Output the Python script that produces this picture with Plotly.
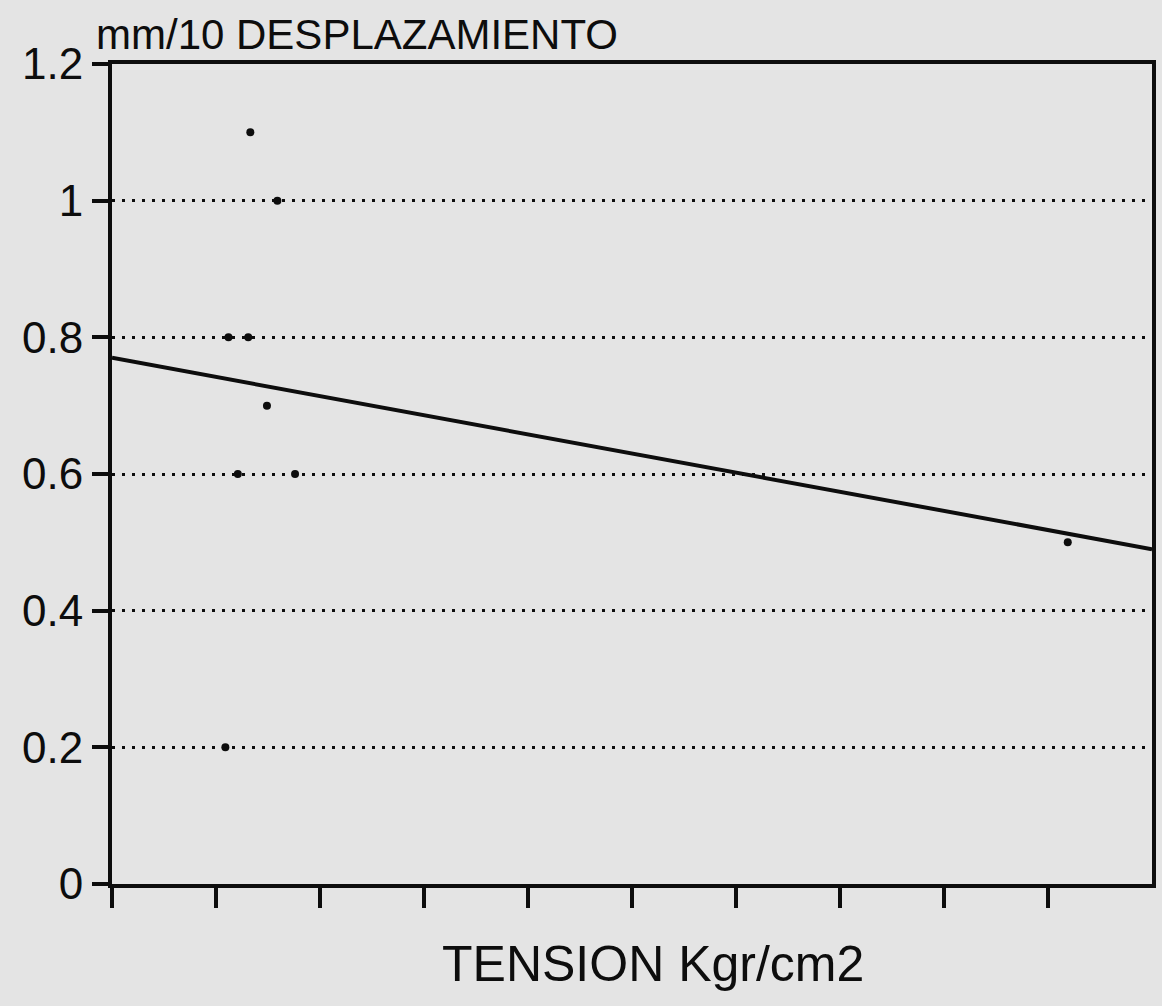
import plotly.graph_objects as go

# Data
tension = [1.33, 1.59, 1.12, 1.31, 1.49, 1.21, 1.76, 1.09, 9.19]
desplazamiento = [1.10, 1.00, 0.80, 0.80, 0.70, 0.60, 0.60, 0.20, 0.50]

fit_x = [0, 10]
fit_y = [0.77, 0.49]

y_tickvals = [0, 0.2, 0.4, 0.6, 0.8, 1.0, 1.2]
y_ticktext = ["0", "0.2", "0.4", "0.6", "0.8", "1", "1.2"]
x_tickvals = [0, 1, 2, 3, 4, 5, 6, 7, 8, 9]

y_title = "mm/10 DESPLAZAMIENTO"
x_title = "TENSION Kgr/cm2"

FONT = "Liberation Sans, Arial, Helvetica, sans-serif"
INK = "#0d0d0d"
BG = "#e4e4e4"

fig = go.Figure()

fig.add_trace(go.Scatter(
    x=fit_x, y=fit_y, mode="lines",
    line=dict(color=INK, width=4),
    hoverinfo="skip", showlegend=False,
))

fig.add_trace(go.Scatter(
    x=tension, y=desplazamiento, mode="markers",
    marker=dict(color=INK, size=8, symbol="circle"),
    showlegend=False,
))

fig.update_layout(
    width=1162, height=1006,
    paper_bgcolor=BG, plot_bgcolor=BG,
    margin=dict(l=112, r=6, t=64, b=122),
    font=dict(family=FONT, color=INK, size=44),
    showlegend=False,
)

fig.update_xaxes(
    range=[0, 10],
    tickmode="array", tickvals=x_tickvals,
    showticklabels=False,
    ticks="outside", ticklen=20, tickwidth=3.5, tickcolor=INK,
    showline=True, linewidth=4, linecolor=INK, mirror=True,
    showgrid=False, zeroline=False,
)

fig.update_yaxes(
    range=[0, 1.2],
    tickmode="array", tickvals=y_tickvals, ticktext=y_ticktext,
    ticks="outside", ticklen=16, tickwidth=3.5, tickcolor=INK,
    tickfont=dict(size=44, family=FONT, color=INK),
    showline=True, linewidth=4, linecolor=INK, mirror=True,
    showgrid=True, gridcolor=INK, gridwidth=3, griddash="3px,7px",
    zeroline=False,
)

fig.add_annotation(
    text=y_title, xref="paper", yref="paper", x=0, y=1,
    xanchor="left", yanchor="bottom", xshift=-18, yshift=4,
    showarrow=False, font=dict(size=42, family=FONT, color=INK),
)

fig.add_annotation(
    text=x_title, xref="paper", yref="paper", x=0.52, y=0,
    xanchor="center", yanchor="top", yshift=-50,
    showarrow=False, font=dict(size=50, family=FONT, color=INK),
)

fig.write_html("out.html")
